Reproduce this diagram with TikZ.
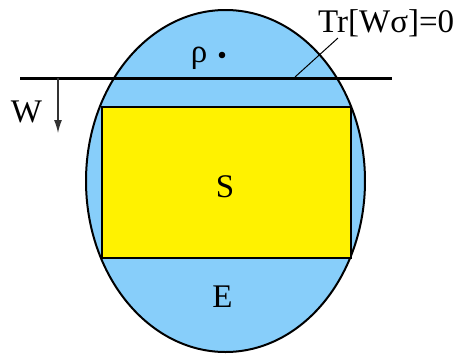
\documentclass[tikz,border=0pt]{standalone}
\usepackage{fontspec}
\setmainfont{Liberation Serif}
\usetikzlibrary{shapes.geometric,arrows.meta}
\definecolor{skyb}{RGB}{135,206,250}
\tikzset{
  lbl/.style={inner sep=0pt,anchor=base,font=\fontsize{33}{33}\selectfont},
}
\begin{document}
\begin{tikzpicture}[x=1pt,y=-1pt]
\useasboundingbox (0,0) rectangle (464,354);
\node[ellipse,draw=black,line width=2pt,fill=skyb,minimum width=279pt,minimum height=342pt,inner sep=0pt] (E) at (225.5,181) {};
\node[rectangle,draw=black,line width=2pt,fill=yellow,minimum width=249pt,minimum height=151pt,inner sep=0pt] (S) at (226.5,182.5) {};
\coordinate (hlw) at (20,78);
\coordinate (hle) at (392,78);
\draw[line width=3pt] (hlw) -- (hle);
\coordinate (wtop) at (58,78);
\coordinate (wtip) at (58,133);
\draw[line width=1.2pt,draw=black!80,-{Latex[length=13pt,width=8pt]}] (wtop) -- (wtip);
\coordinate (lead) at (338,38);
\coordinate (leadend) at (295,77);
\draw[line width=1pt] (lead) -- (leadend);
\node[lbl,anchor=base west] (tr) at (318,32) {Tr[Wσ]=0};
\node[lbl] (wl) at (26.5,122) {W};
\node[lbl] (rho) at (199,62) {ρ};
\fill (222,55) circle (3.3pt);
\node[lbl] (sl) at (225,197) {S};
\node[lbl] (el) at (222.5,307) {E};
\end{tikzpicture}
\end{document}
